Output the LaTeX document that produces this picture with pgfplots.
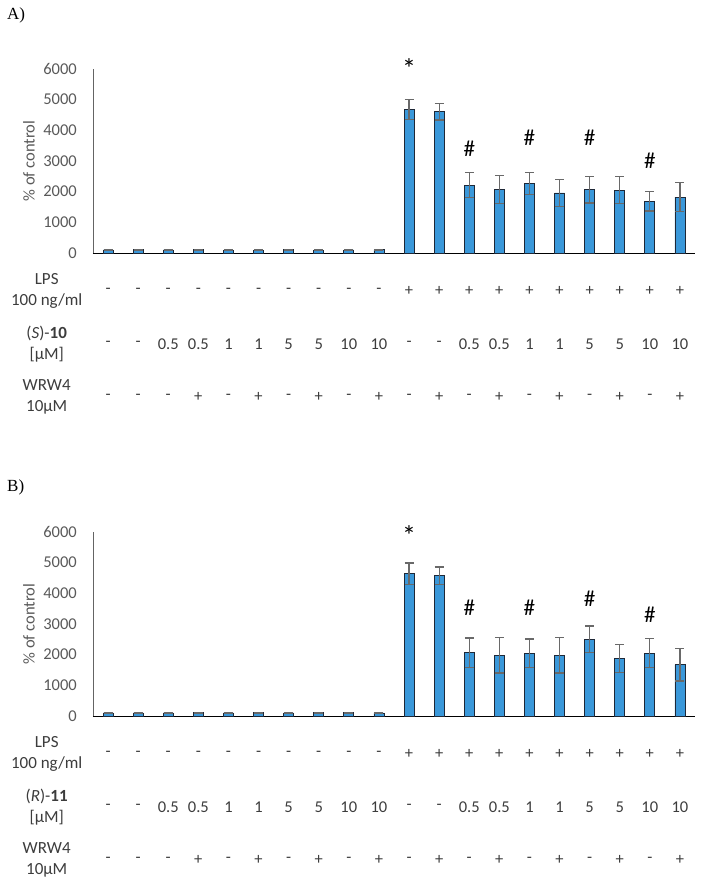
\documentclass[border=0pt]{standalone}
\usepackage{pgfplots}
\pgfplotsset{compat=1.18}
\usepackage{pgfplotstable}
\usepackage{fontspec}
\setmainfont{Carlito}
\newfontfamily\panelfont{Liberation Serif}
\definecolor{barblue}{RGB}{58,152,218}
\definecolor{baredge}{RGB}{30,40,55}
\definecolor{errgray}{RGB}{105,105,105}
\definecolor{ticktext}{RGB}{89,89,89}
\definecolor{rowtext}{RGB}{60,60,60}
\definecolor{yaxis}{RGB}{100,100,100}

\pgfplotstableread{
x y e
1 100 12
2 105 12
3 100 12
4 105 12
5 90 12
6 90 12
7 105 12
8 90 12
9 100 12
10 105 12
11 4686 325
12 4608 272
13 2217 403
14 2076 457
15 2261 359
16 1957 445
17 2065 435
18 2054 435
19 1685 315
20 1826 478
}\dataA

\pgfplotstableread{
x y e
1 100 12
2 100 12
3 100 12
4 110 12
5 100 12
6 110 12
7 100 12
8 110 12
9 110 12
10 100 12
11 4641 348
12 4576 283
13 2065 478
14 1978 576
15 2043 468
16 1978 576
17 2500 435
18 1880 457
19 2054 479
20 1674 533
}\dataB

\tikzset{
  rowval/.style={font=\fontsize{16.5}{19}\selectfont, text=rowtext, anchor=center, inner sep=0pt},
  rowlab/.style={font=\fontsize{17}{21.7}\selectfont, text=rowtext, align=center, anchor=center, inner sep=0pt},
  annot/.style={font=\fontsize{23}{23}\selectfont, text=black, anchor=center, inner sep=0pt},
  star/.style={font=\fontsize{28}{28}\selectfont, text=black, anchor=center, inner sep=0pt},
}

\pgfplotsset{
  panel/.style={
    scale only axis, width=602pt, height=184pt,
    anchor=south west,
    xmin=0.5, xmax=20.5, ymin=0, ymax=6000,
    axis x line*=bottom, axis y line*=left,
    x axis line style={-, black, line width=1pt},
    y axis line style={-, yaxis, line width=0.8pt},
    xtick=\empty,
    ytick={0,1000,...,6000},
    major tick length=0pt,
    yticklabel style={font=\fontsize{16.5}{19}\selectfont, text=ticktext, inner sep=0pt, anchor=east, xshift=-16pt},
    /pgf/number format/1000 sep={},
    /pgf/number format/assume math mode=true,
    clip=false,
  },
  barstyle/.style={ybar, bar width=10pt, bar shift=0pt, fill=barblue, draw=baredge, line width=0.8pt},
  errstyle/.style={draw=none, mark=none, forget plot,
    error bars/.cd, y dir=both, y explicit,
    error bar style={draw=errgray, line width=1.2pt},
    error mark options={draw=errgray, rotate=90, mark size=4.5pt, line width=1.2pt}},
}

\newcommand{\rows}[2]{%
  \foreach \t [count=\i] in {-,-,-,-,-,-,-,-,-,-,+,+,+,+,+,+,+,+,+,+} {\edef\tmp{\noexpand\node[rowval] at (axis cs:\i,0) [yshift=-38pt] {\t};}\tmp}
  \foreach \t [count=\i] in {-,-,0.5,0.5,1,1,5,5,10,10,-,-,0.5,0.5,1,1,5,5,10,10} {\edef\tmp{\noexpand\node[rowval] at (axis cs:\i,0) [yshift=-91pt] {\t};}\tmp}
  \foreach \t [count=\i] in {-,-,-,+,-,+,-,+,-,+,-,+,-,+,-,+,-,+,-,+} {\edef\tmp{\noexpand\node[rowval] at (axis cs:\i,0) [yshift=-144pt] {\t};}\tmp}
  \node[rowlab] at ([xshift=-46.3pt, yshift=-38pt]rel axis cs:0,0) {LPS\\100 ng/ml};
  \node[rowlab] at ([xshift=-46.3pt, yshift=-91pt]rel axis cs:0,0) {(\textit{#1})-\textbf{#2}\\{}[µM]};
  \node[rowlab] at ([xshift=-46.3pt, yshift=-144pt]rel axis cs:0,0) {WRW4\\10µM};
  \node[rotate=90, font=\fontsize{16.5}{19}\selectfont, text=ticktext, anchor=center] at ([xshift=-64pt]rel axis cs:0,0.5) {\% of control};
}

\begin{document}
\begin{tikzpicture}[x=1pt,y=1pt]
\useasboundingbox (0,0) rectangle (704,-887);
\node[anchor=west, font=\panelfont\fontsize{17}{20}\selectfont, inner sep=0pt] at (7,-15) {A)};
\node[anchor=west, font=\panelfont\fontsize{17}{20}\selectfont, inner sep=0pt] at (7,-487) {B)};

\begin{axis}[panel, at={(93pt,-253pt)}]
\addplot[barstyle] table[x=x, y=y] {\dataA};
\addplot[errstyle] table[x=x, y=y, y error=e] {\dataA};
\rows{S}{10}
\node[star] at (axis cs:11,6020) {*};
\node[annot] at (axis cs:13,3414) {\#};
\node[annot] at (axis cs:15,3772) {\#};
\node[annot] at (axis cs:17,3772) {\#};
\node[annot] at (axis cs:19,3010) {\#};
\end{axis}

\begin{axis}[panel, at={(93pt,-716pt)}]
\addplot[barstyle] table[x=x, y=y] {\dataB};
\addplot[errstyle] table[x=x, y=y, y error=e] {\dataB};
\rows{R}{11}
\node[star] at (axis cs:11,5900) {*};
\node[annot] at (axis cs:13,3544) {\#};
\node[annot] at (axis cs:15,3544) {\#};
\node[annot] at (axis cs:17,3837) {\#};
\node[annot] at (axis cs:19,3293) {\#};
\end{axis}
\end{tikzpicture}
\end{document}
